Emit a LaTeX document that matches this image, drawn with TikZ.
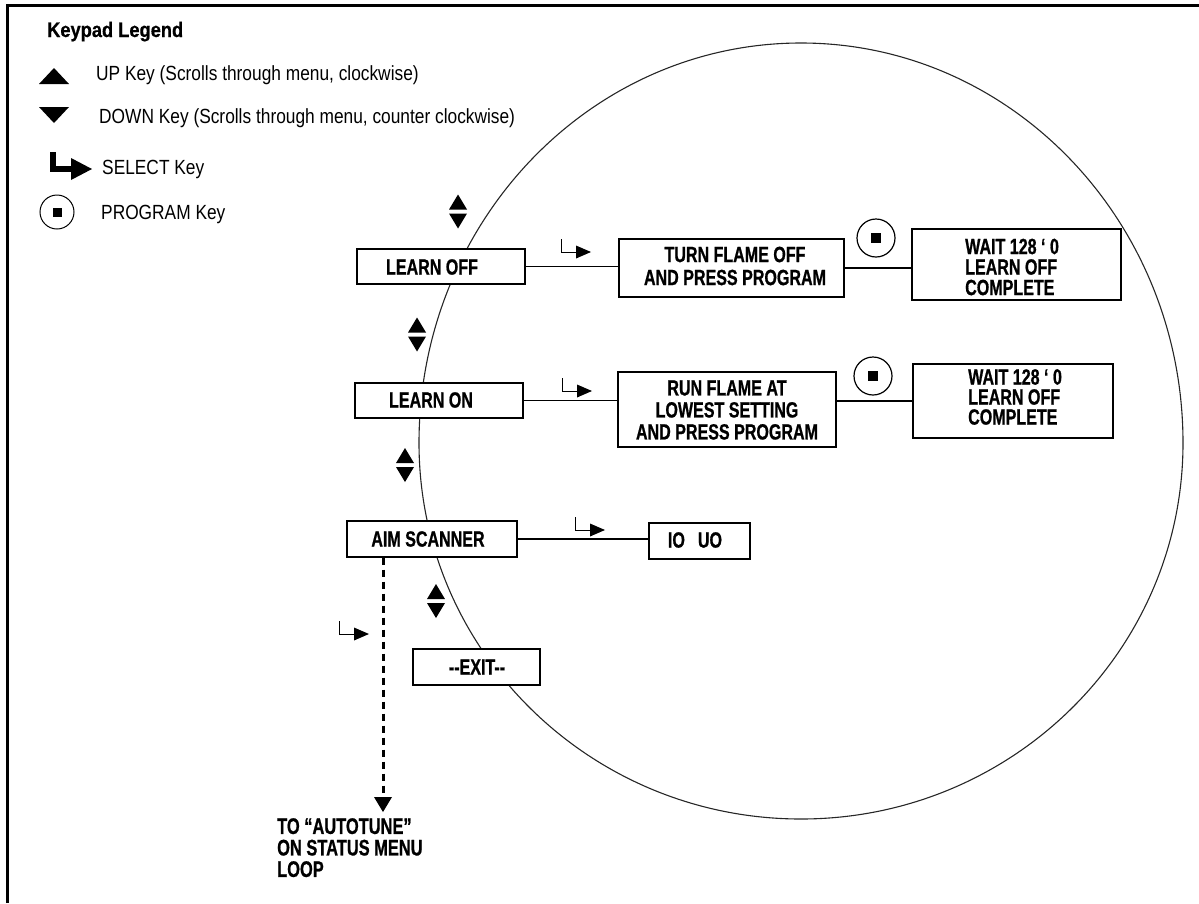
\documentclass[tikz,border=0pt]{standalone}
\usepackage{fontspec}
\setmainfont{Liberation Sans}
\newfontfamily\legfont[FakeStretch=0.845]{Liberation Sans}
\newfontfamily\headfont[FakeStretch=0.87,FakeBold=0.6]{Liberation Sans}
\newfontfamily\boxfont[FakeStretch=0.73,FakeBold=0.8]{Liberation Sans}
\begin{document}
\begin{tikzpicture}[x=1pt,y=-1pt,
  box/.style={draw, fill=white, line width=1.3pt, inner sep=0pt},
  btext/.style={font={\boxfont\bfseries\fontsize{22}{22}\selectfont}, inner sep=0pt, align=center},
  ltext/.style={font={\legfont\fontsize{20.5}{22}\selectfont}, inner sep=0pt, anchor=base west},
  conn/.style={line width=1.3pt},
  progkey/.style={draw, circle, line width=1.2pt, minimum size=38pt, inner sep=0pt},
  updown/.pic={\fill (-9,-2) -- (9,-2) -- (0,-17) -- cycle;
               \fill (-9,2) -- (9,2) -- (0,17) -- cycle;},
  selkey/.pic={\draw[line width=1pt] (0,-13) -- (0,0) -- (16,0);
               \fill (15,-6.5) -- (30,0) -- (15,6.5) -- cycle;}
]
\useasboundingbox (0,0) rectangle (1199,903);
% frame
\draw[line width=2.5pt] (7.5,903) -- (7.5,5.5) -- (1199,5.5);

% legend
\node[font={\headfont\bfseries\fontsize{21}{22}\selectfont}, inner sep=0pt, anchor=base west] (legtitle) at (47,37) {Keypad Legend};
\fill (39,84) -- (69,84) -- (54,68) -- cycle;
\node[ltext] (legup) at (96,80) {UP Key (Scrolls through menu, clockwise)};
\fill (39,107) -- (69,107) -- (54,123) -- cycle;
\node[ltext] (legdown) at (99,123) {DOWN Key (Scrolls through menu, counter clockwise)};
\fill (50,152) rectangle (56,172);
\fill (50,166) rectangle (72,172);
\fill (71,158) -- (92,169) -- (71,180) -- cycle;
\node[ltext] (legsel) at (102,174) {SELECT Key};
\node[draw, circle, line width=1pt, minimum size=34pt, inner sep=0pt] (legprog) at (57,212) {\rule{9pt}{9pt}};
\node[ltext] (legprogt) at (101,219) {PROGRAM Key};

% big loop
\draw[line width=1.1pt, black!85] (419,443) arc[start angle=180, end angle=360, x radius=382, y radius=400]
      arc[start angle=0, end angle=180, x radius=382, y radius=376];

% boxes
\node[box, minimum width=168pt, minimum height=35pt] (loff) at (441,266.5) {};
\node[btext] (lofft) at (432,267) {LEARN OFF};
\node[box, minimum width=225pt, minimum height=58pt] (turn) at (731.5,268) {};
\node[btext, font={\boxfont\bfseries\fontsize{22}{23}\selectfont}] (turnt) at (735,266) {TURN FLAME OFF\\AND PRESS PROGRAM};
\node[box, minimum width=209pt, minimum height=71pt] (w1) at (1016.5,264.5) {};
\node[btext, align=left, anchor=west, font={\boxfont\bfseries\fontsize{22}{20.5}\selectfont}] (w1t) at (965,267) {WAIT 128 ‘ 0\\LEARN OFF\\COMPLETE};

\node[box, minimum width=168pt, minimum height=35pt] (lon) at (439,400.5) {};
\node[btext] (lont) at (431,400) {LEARN ON};
\node[box, minimum width=218pt, minimum height=75pt] (run) at (727,409.5) {};
\node[btext, font={\boxfont\bfseries\fontsize{22}{22}\selectfont}] (runt) at (727,410) {RUN FLAME AT\\LOWEST SETTING\\AND PRESS PROGRAM};
\node[box, minimum width=200pt, minimum height=74pt] (w2) at (1013,401) {};
\node[btext, align=left, anchor=west, font={\boxfont\bfseries\fontsize{22}{20}\selectfont}] (w2t) at (968,397) {WAIT 128 ‘ 0\\LEARN OFF\\COMPLETE};

\node[box, minimum width=170pt, minimum height=36pt] (aim) at (432,539) {};
\node[btext] (aimt) at (428,539) {AIM SCANNER};
\node[box, minimum width=101pt, minimum height=36pt] (io) at (699.5,541) {};
\node[btext] (iot) at (695,540) {IO\hspace{13pt}UO};
\node[box, minimum width=127pt, minimum height=36pt] (exit) at (476.5,667) {};
\node[btext] (exitt) at (477,667) {{-}{-}EXIT{-}{-}};

% program keys
\node[progkey] (pc1) at (876,238) {\rule{10pt}{10pt}};
\node[progkey] (pc2) at (873,376) {\rule{10pt}{10pt}};

% connectors
\draw[conn] (loff.east) -- (loff.east -| turn.west);
\draw[conn] (turn.east) -- (turn.east -| w1.west);
\draw[conn] (lon.east) -- (lon.east -| run.west);
\draw[conn] (run.east |- w2.west) -- (w2.west);
\draw[conn] (aim.east) -- (aim.east -| io.west);

% select keys
\pic at (561,252) {selkey};
\pic at (562,391) {selkey};
\pic at (575,530) {selkey};
\pic at (339,634) {selkey};

% up/down keys
\pic at (458,211.5) {updown};
\pic at (417,334.5) {updown};
\pic at (405,465) {updown};
\pic at (436,601) {updown};

% dotted exit to autotune
\coordinate (tip) at (383,812);
\draw[line width=3pt, dash pattern=on 7pt off 5pt] (aim.south -| tip) -- ([yshift=15pt]tip);
\fill (tip) -- ++(-9,-15) -- ++(18,0) -- cycle;
\node[btext, align=left, anchor=north west, font={\boxfont\bfseries\fontsize{22.5}{21.5}\selectfont}] (autot) at (277,818) {TO “AUTOTUNE”\\ON STATUS MENU\\LOOP};
\end{tikzpicture}
\end{document}
